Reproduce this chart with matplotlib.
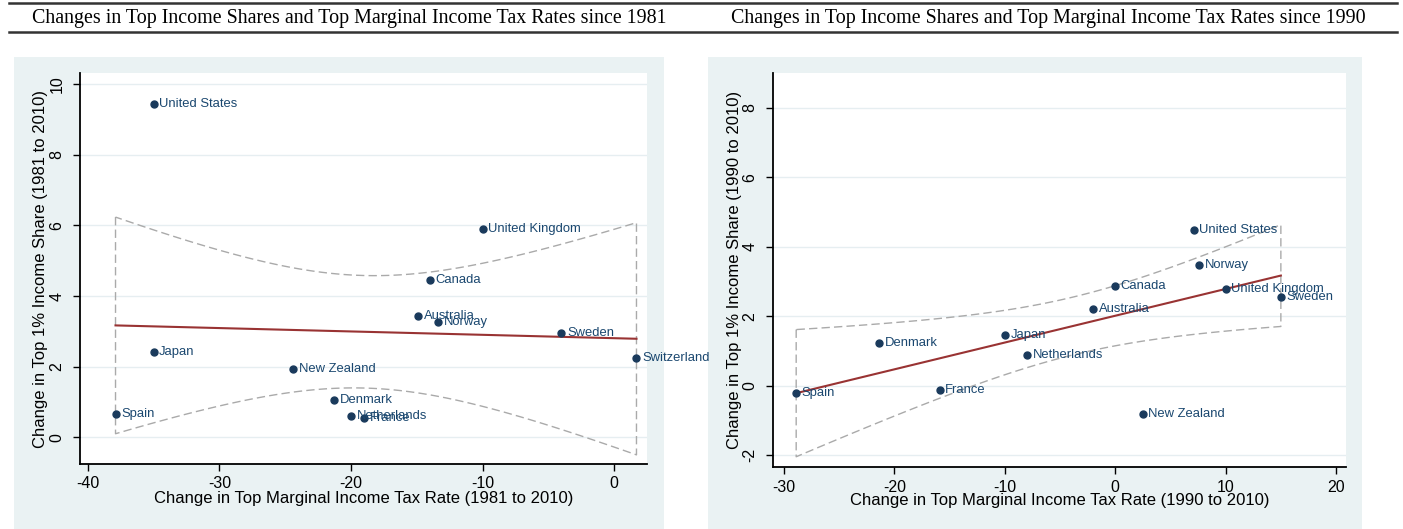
import numpy as np
import matplotlib
matplotlib.use('Agg')
import matplotlib.pyplot as plt
from matplotlib.patches import Rectangle
from matplotlib.lines import Line2D

# change in top marginal tax rate vs change in top 1% share, 1981-2010
countries_81 = ['United States', 'Japan', 'New Zealand', 'Denmark', 'Spain',
                'Netherlands', 'France', 'United Kingdom', 'Canada',
                'Australia', 'Norway', 'Sweden', 'Switzerland']
tax_81 = [-35.0, -35.0, -24.4, -21.3, -37.9, -20.0, -19.0, -10.0, -14.0,
          -14.9, -13.4, -4.0, 1.7]
share_81 = [9.43, 2.41, 1.92, 1.04, 0.66, 0.60, 0.55, 5.89, 4.44,
            3.42, 3.27, 2.96, 2.24]

# same for 1990-2010
countries_90 = ['Spain', 'Denmark', 'France', 'Japan', 'Netherlands',
                'Australia', 'Canada', 'New Zealand', 'United States',
                'Norway', 'United Kingdom', 'Sweden']
tax_90 = [-28.9, -21.4, -15.9, -10.0, -8.0, -2.0, 0.0, 2.5, 7.1, 7.6, 10.0, 15.0]
share_90 = [-0.21, 1.23, -0.12, 1.46, 0.89, 2.21, 2.87, -0.82, 4.49,
            3.46, 2.77, 2.54]

titles = ['Changes in Top Income Shares and Top Marginal Income Tax Rates since 1981',
          'Changes in Top Income Shares and Top Marginal Income Tax Rates since 1990']
xlabels = ['Change in Top Marginal Income Tax Rate (1981 to 2010)',
           'Change in Top Marginal Income Tax Rate (1990 to 2010)']
ylabels = ['Change in Top 1% Income Share (1981 to 2010)',
           'Change in Top 1% Income Share (1990 to 2010)']

# two-sided 95% t quantiles by residual df
T975 = {10: 2.228, 11: 2.201}

BG = '#eaf2f3'
NAVY = '#1a3a5c'
LABEL = '#1a476f'
FIT = '#993333'

plt.rcParams['font.family'] = ['Liberation Sans', 'DejaVu Sans']
plt.rcParams['axes.unicode_minus'] = False

W, H = 1403, 529
fig = plt.figure(figsize=(W / 100, H / 100), dpi=100)


def fx(px):
    return px / W


def fy(py):
    return 1 - py / H


# header rules and titles
for yy in (3, 32):
    fig.add_artist(Line2D([fx(9), fx(1397)], [fy(yy), fy(yy)],
                          color='#333333', lw=1.8))
fig.text(fx(349), fy(18), titles[0], ha='center', va='center',
         family='Liberation Serif', fontsize=14.4)
fig.text(fx(1048), fy(18), titles[1], ha='center', va='center',
         family='Liberation Serif', fontsize=14.4)

# shaded graph regions, kept behind the axes
for x0, x1 in ((14, 664), (708, 1362)):
    fig.patches.append(Rectangle((fx(x0), 0), fx(x1) - fx(x0), fy(57),
                                 transform=fig.transFigure,
                                 facecolor=BG, edgecolor='none', zorder=-5))


def panel(rect, x, y, names, xlim, ylim, xticks, yticks, xlabel, ylabel,
          xlab_y, ylab_x):
    ax = fig.add_axes(rect)
    ax.set_zorder(2)
    ax.set_facecolor('white')
    x = np.array(x)
    y = np.array(y)
    n = len(x)

    # OLS fit with 95% confidence band of the mean prediction
    b, a = np.polyfit(x, y, 1)
    resid = y - (a + b * x)
    s = np.sqrt(np.sum(resid ** 2) / (n - 2))
    sxx = np.sum((x - x.mean()) ** 2)
    xs = np.linspace(x.min(), x.max(), 100)
    yhat = a + b * xs
    half = T975[n - 2] * s * np.sqrt(1 / n + (xs - x.mean()) ** 2 / sxx)
    ax.fill_between(xs, yhat - half, yhat + half, facecolor='none',
                    edgecolor='#aaaaaa', linestyle=(0, (6, 3)), lw=1.0,
                    zorder=2)
    ax.plot(xs, yhat, color=FIT, lw=1.5, zorder=3)

    ax.plot(x, y, 'o', color=NAVY, ms=5, zorder=4)
    for xi, yi, name in zip(x, y, names):
        ax.annotate(name, (xi, yi), xytext=(4, 0), textcoords='offset points',
                    va='center', ha='left', fontsize=9.4, color=LABEL,
                    zorder=5, annotation_clip=False)

    ax.set_xlim(*xlim)
    ax.set_ylim(*ylim)
    ax.set_xticks(xticks)
    ax.set_yticks(yticks)
    ax.set_yticklabels([str(t) for t in yticks], rotation=90, va='center')
    ax.grid(axis='y', color='#e6eef1', lw=1.0)
    ax.set_axisbelow(True)
    for side in ('top', 'right'):
        ax.spines[side].set_visible(False)
    for side in ('left', 'bottom'):
        ax.spines[side].set_linewidth(1.3)
    ax.tick_params(direction='out', length=5, width=1, labelsize=11.5, pad=4)
    ax.tick_params(axis='y', pad=6)
    ax.set_xlabel(xlabel, fontsize=12)
    ax.set_ylabel(ylabel, fontsize=12)
    ax.xaxis.set_label_coords(0.5, xlab_y)
    ax.yaxis.set_label_coords(ylab_x, 0.5)
    ax.xaxis.label.set_va('center')
    ax.yaxis.label.set_va('center')
    return ax


panel([fx(80), fy(464), fx(647) - fx(80), fy(73) - fy(464)],
      tax_81, share_81, countries_81, (-40.6, 2.5), (-0.76, 10.32),
      [-40, -30, -20, -10, 0], [0, 2, 4, 6, 8, 10],
      xlabels[0], ylabels[0], -0.087, -0.0705)

panel([fx(773), fy(467), fx(1346) - fx(773), fy(73) - fy(467)],
      tax_90, share_90, countries_90, (-31.0, 20.9), (-2.34, 9.0),
      [-30, -20, -10, 0, 10, 20], [-2, 0, 2, 4, 6, 8],
      xlabels[1], ylabels[1], -0.086, -0.068)

fig.savefig('out.png', dpi=100)
